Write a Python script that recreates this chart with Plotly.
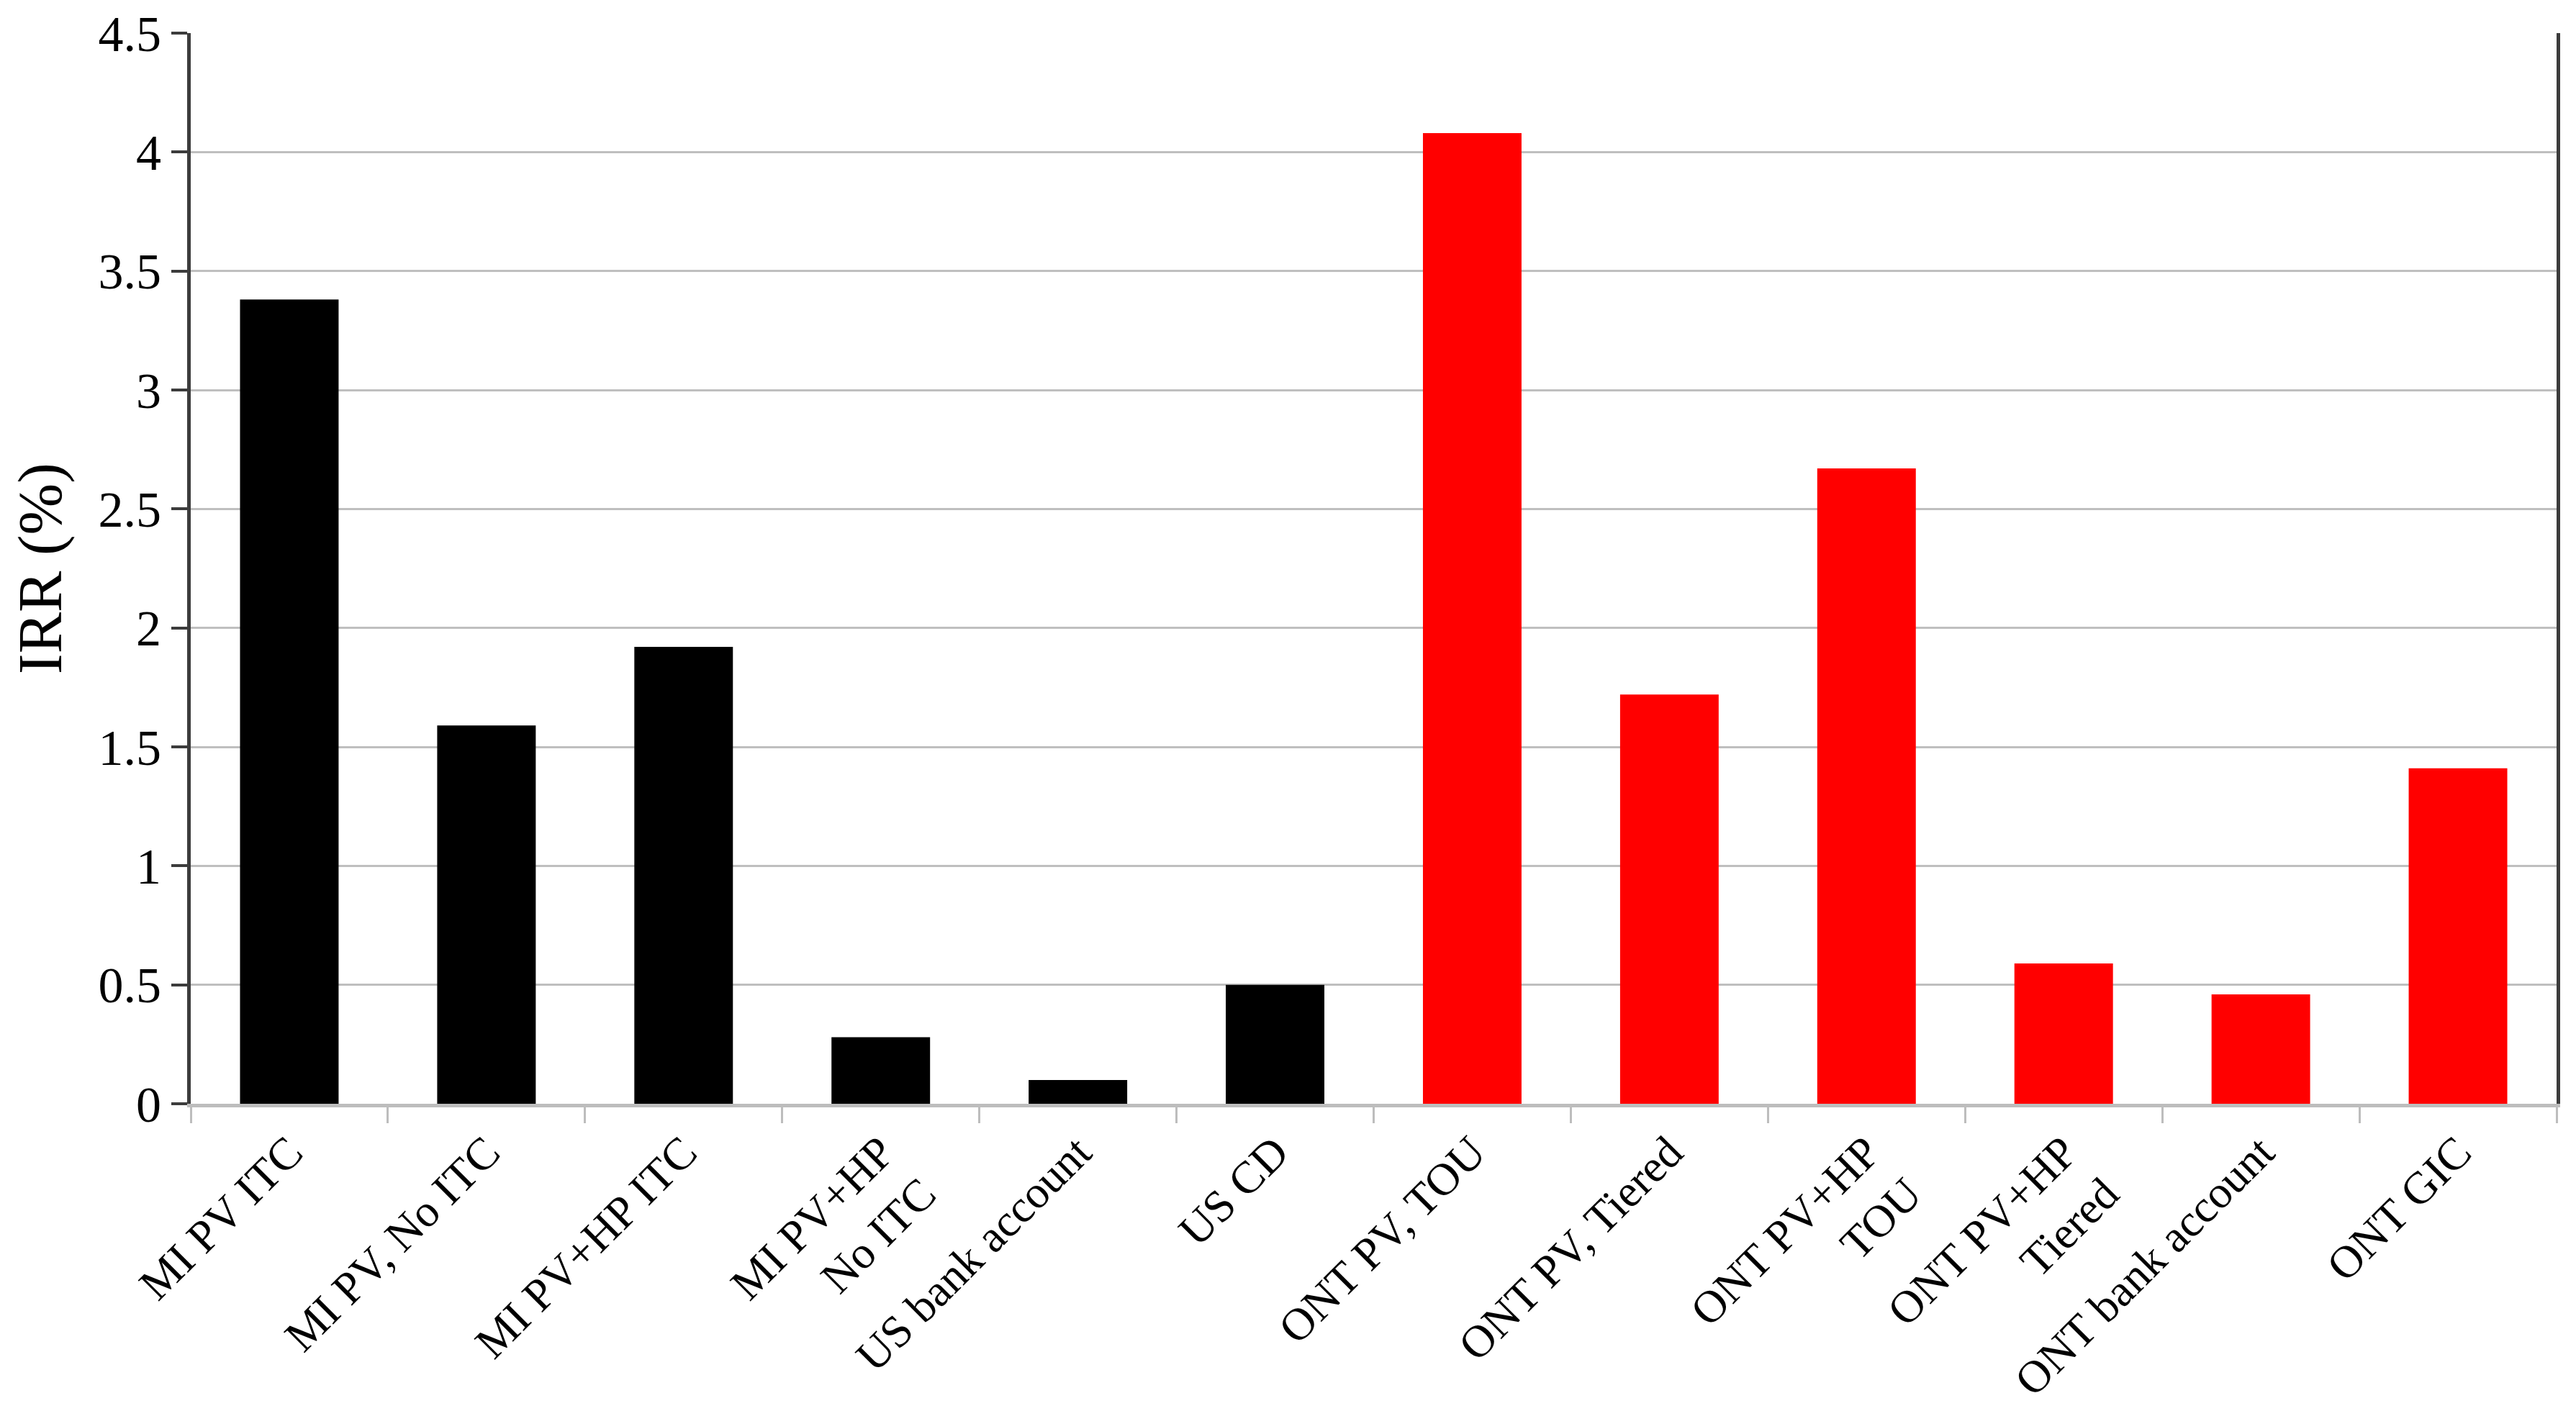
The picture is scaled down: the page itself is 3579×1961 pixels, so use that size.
import plotly.graph_objects as go

categories = [
    "MI PV ITC", "MI PV, No ITC", "MI PV+HP ITC", "MI PV+HP<br>No ITC",
    "US bank account", "US CD", "ONT PV, TOU", "ONT PV, Tiered",
    "ONT PV+HP<br>TOU", "ONT PV+HP<br>Tiered", "ONT bank account", "ONT GIC",
]
irr_values = [3.38, 1.59, 1.92, 0.28, 0.10, 0.50, 4.08, 1.72, 2.67, 0.59, 0.46, 1.41]
bar_colors = ["#000000"] * 6 + ["#ff0000"] * 6
y_ticks = [0, 0.5, 1, 1.5, 2, 2.5, 3, 3.5, 4, 4.5]

FONT = "Liberation Serif"

fig = go.Figure(
    go.Bar(
        x=categories,
        y=irr_values,
        marker=dict(color=bar_colors, line=dict(width=0)),
        width=0.5,
    )
)

fig.update_layout(
    width=3579,
    height=1961,
    paper_bgcolor="white",
    plot_bgcolor="white",
    margin=dict(l=257, r=35, t=38, b=435, pad=0),
    showlegend=False,
    font=dict(family=FONT, color="black"),
)

fig.update_xaxes(
    type="category",
    tickangle=-45,
    tickfont=dict(family=FONT, size=63, color="black"),
    showline=True,
    linecolor="#bdbdbd",
    linewidth=5,
    ticks="outside",
    tickson="boundaries",
    ticklen=22,
    tickwidth=3,
    tickcolor="#bdbdbd",
    showgrid=False,
    zeroline=False,
    automargin=False,
)

fig.update_yaxes(
    range=[0, 4.5],
    tickmode="array",
    tickvals=y_ticks,
    ticktext=[f"{v:g}" for v in y_ticks],
    tickfont=dict(family=FONT, size=70, color="black"),
    showgrid=True,
    gridcolor="#bfbfbf",
    gridwidth=3,
    showline=True,
    linecolor="#3c3c3c",
    linewidth=5,
    mirror=True,
    ticks="outside",
    ticklen=22,
    tickwidth=4,
    tickcolor="#3c3c3c",
    zeroline=False,
    automargin=False,
    title=dict(text="IRR (%)", font=dict(family=FONT, size=86, color="black"), standoff=40),
)

fig.write_html("out.html")
